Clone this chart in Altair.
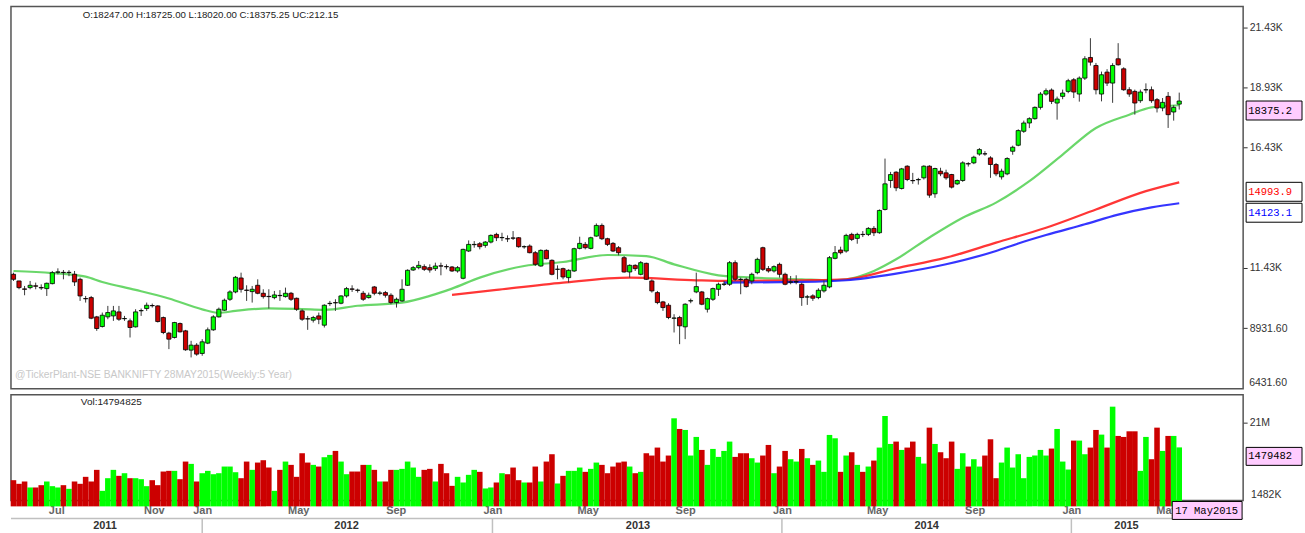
import altair as alt
import pandas as pd

# ---------------- data ----------------
last_date = "2015-05-17"
n_weeks = 211

opens = [11167,10891,10560,10614,10690,10620,10573,10780,11250,11250,
         11240,11170,10960,10160,10199,9397,8996,9397,9438,9604,
         9320,9231,8982,9650,9743,9870,9853,9369,8720,8540,
         9120,8816,8014,8222,7876,8305,8858,9397,9674,10130,
         10434,11015,10510,10448,10711,10379,10250,10199,10290,10241,
         10379,10171,9646,9320,9259,9438,9051,9950,9990,9964,
         10268,10560,10510,10379,10199,10642,10379,10407,10296,9992,
         10061,10711,11347,11444,11486,11444,11403,11520,11490,11472,
         11306,11002,12136,12400,12440,12371,12509,12827,12690,12650,
         12680,12689,12310,12343,12067,11513,12163,11749,11375,11403,
         11029,11306,12246,12412,12246,12758,13201,12648,12454,12274,
         11859,11265,11541,11168,11624,10891,10407,10020,9881,9340,
         9370,8983,10060,10435,10435,9716,10130,10545,10750,10753,
         11651,10960,10960,10891,11237,12274,11403,11306,11582,11168,
         10840,10850,10753,10220,10270,10200,10477,10643,11832,12178,
         12136,12828,12662,12830,12828,13077,12897,13865,15069,15415,
         14738,15664,15070,15100,15181,15664,14517,15457,15388,15319,
         14931,15070,15770,15803,16170,16180,16010,15733,15221,15346,
         16287,16536,17117,17462,17642,18112,18665,18831,18292,18569,
         18776,19260,18666,19329,20187,19854,18666,19578,19122,20132,
         19716,18845,18776,18389,18840,18845,18431,18085,18569,17919,
         18247.00]
highs = [11236,10900,10683,10891,10822,10750,10822,11306,11416,11347,
         11340,11306,11030,10268,10268,9438,9577,9853,9853,9853,
         9438,9328,9715,9743,9992,9950,9880,9411,8775,9190,
         9162,8857,8401,8305,8470,8955,9466,9785,10158,10503,
         11098,11236,10711,10683,10960,10545,10545,10476,10510,10614,
         10434,10199,9715,9438,9438,9577,9922,10061,10130,10296,
         10642,10711,10573,10476,10407,10683,10476,10476,10379,10199,
         10960,11375,11513,11721,11582,11582,11652,11652,11582,11513,
         11513,12233,12578,12550,12509,12550,12827,12896,12896,12786,
         12966,12717,12371,12412,12136,12205,12205,11790,11541,11444,
         11375,12274,12731,12509,12731,13284,13284,12689,12509,12343,
         11928,11582,11582,11721,11652,10960,10476,10061,9965,9508,
         9439,9965,10158,11237,10476,10200,10615,10822,10891,11721,
         11748,11030,11030,11237,11859,12316,11513,11541,11652,11237,
         11098,11126,10822,10310,10338,10587,10919,11929,12344,12316,
         12855,12897,12897,12966,13132,13173,13865,15981,15428,15456,
         15594,15705,15387,15180,15705,15705,15600,15600,15520,15345,
         15110,15871,15830,16100,16420,16290,16080,15800,15560,16038,
         16520,17200,17560,17700,18150,18749,18900,18900,18560,18850,
         19300,19330,19400,20241,20989,19960,19600,19700,19950,20782,
         19780,18950,18850,18850,19110,18980,18500,18500,18750,18200,
         18725.00]
lows = [10891,10545,10296,10545,10545,10520,10268,10750,11167,10960,
        11090,10683,10061,9992,9300,8816,8955,9300,9231,9231,
        9231,8540,8955,9438,9646,9785,9162,8678,8056,8498,
        8747,7986,7710,7779,7779,8263,8816,9369,9646,10061,
        10379,10407,10061,9992,10338,10158,9743,10130,10061,10199,
        10061,9646,9231,8858,9162,9093,8955,9853,9646,9922,
        10199,10434,10407,10061,10158,10296,10296,10199,9922,9784,
        10020,10684,11306,11375,11306,11237,11306,11126,11375,11265,
        11237,10960,12094,12274,12205,12274,12454,12550,12550,12509,
        12596,12274,12233,12040,11513,11486,11790,11126,10960,10960,
        10822,11265,12205,12205,12205,12730,12592,12343,12094,11956,
        11237,11029,11306,11126,10933,10407,9923,9646,9301,8748,
        8263,8471,9965,10380,9882,9578,10061,10269,10684,10684,
        10891,10338,10615,10753,11168,11306,11237,11237,11029,10712,
        10753,10753,9855,9895,10062,10131,10407,10587,11790,11998,
        12067,12551,12440,12717,12758,12758,12855,13824,14765,14626,
        14695,15042,14930,14900,15110,14350,14350,15250,15100,14737,
        14880,15013,15650,15750,16100,16100,15180,15250,15111,15290,
        16140,16494,17050,17250,17600,18020,18600,18250,17600,18450,
        18700,18500,18350,19250,19850,18650,18362,19000,18300,19850,
        18800,18550,17808,18300,18700,18300,17900,17950,17256,17560,
        18020.00]
closes = [10960,10614,10545,10711,10670,10600,10794,11236,11270,11240,
          11250,10850,10268,10150,9342,8913,9466,9577,9646,9300,
          9330,8955,9604,9660,9881,9860,9203,8747,8470,9162,
          8775,8028,8222,7848,8360,8858,9397,9715,10089,10434,
          11043,10545,10500,10545,10379,10241,10240,10310,10280,10379,
          10130,9715,9300,9310,9369,9300,9881,9960,9980,10268,
          10573,10545,10500,10130,10296,10379,10390,10296,9992,10130,
          10545,11334,11444,11541,11375,11347,11513,11510,11480,11306,
          11444,12205,12412,12412,12316,12509,12786,12689,12700,12640,
          12670,12316,12320,12067,11583,12163,11818,11168,11380,11057,
          11334,12233,12454,12274,12689,13201,12648,12412,12136,12067,
          11265,11541,11403,11652,10960,10477,9992,9785,9370,9350,
          9024,9923,10070,10656,9923,10158,10573,10753,10760,11651,
          10960,10950,10656,11168,11790,11375,11306,11486,11168,10753,
          10850,10860,10200,10230,10173,10504,10712,11860,12067,12067,
          12786,12620,12828,12820,13077,12897,13824,14930,15317,14765,
          15553,15111,15060,15110,15664,14461,15568,15346,15180,14793,
          15070,15803,15760,16038,16355,16176,15734,15346,15457,15983,
          16453,17145,17462,17642,18112,18665,18803,18361,18458,18707,
          19218,18749,19329,20132,19993,18845,19468,19122,19854,19883,
          18845,18666,18292,18749,18845,18389,18085,18320,17808,18112,
          18375.25]
volumes_m = [6.57,5.66,6.24,4.74,4.74,5.32,6.24,5.07,4.74,5.32,
             4.40,6.24,5.66,7.41,6.24,9.16,3.90,7.07,9.16,7.66,
             8.32,7.07,7.07,6.82,5.07,6.57,5.32,8.74,8.91,8.91,
             6.82,11.24,10.66,6.24,8.32,8.91,8.07,8.32,9.99,9.99,
             8.57,7.07,11.24,9.16,10.99,11.58,9.74,3.90,9.16,11.24,
             10.41,7.41,13.33,10.99,10.41,9.99,12.33,12.91,13.91,11.24,
             8.07,8.74,8.74,10.41,10.41,9.16,6.24,6.24,9.16,9.16,
             9.41,11.24,9.74,7.41,9.16,9.41,6.24,10.66,8.32,5.15,
             7.41,5.99,7.91,9.16,8.66,4.49,4.74,5.99,8.32,8.07,
             9.74,6.57,5.99,5.99,9.99,6.24,11.24,13.08,5.74,7.66,
             8.91,8.91,9.74,8.66,9.41,10.99,10.41,8.32,9.99,10.99,
             11.24,9.99,8.32,8.66,13.33,12.75,14.75,11.24,12.75,22.09,
             19.42,19.17,12.75,17.42,14.16,10.41,14.41,12.41,13.91,16.25,
             12.41,13.33,13.33,12.08,10.99,12.75,15.41,8.32,9.99,13.91,
             11.83,11.24,14.41,12.08,10.41,11.49,8.66,17.92,17.08,8.66,
             12.75,13.58,10.41,8.66,9.99,11.49,14.75,22.67,15.66,16.25,
             14.16,14.75,16.25,12.41,10.74,19.75,15.66,13.58,12.08,16.25,
             9.41,13.33,9.99,11.83,9.99,12.75,16.83,7.07,10.99,14.75,
             9.74,13.08,7.07,12.41,12.75,14.16,12.75,14.50,19.42,11.24,
             9.24,16.50,16.50,13.08,14.75,19.17,18.00,14.75,25.01,17.67,
             17.42,18.83,18.83,8.91,17.42,11.83,19.75,13.91,17.67,17.67,
             14.794825]

# moving averages, read at a set of bar positions (bar index, value)
ma_green_idx = [0,7,10,13,16,22,28,34,37,40,46,52,56,62,70,75,79,84,92,99,107,114,119,127,133,142,147,150,155,159,165,171,177,183,189,195,201,205,210]
ma_green_val = [11306,11220,11168,11071,10850,10520,10160,9710,9565,9646,9750,9720,9690,9860,9990,10269,10573,11030,11513,11680,11970,11928,11583,11126,11030,10960,10921,10962,11308,11792,12700,13521,14150,15042,16148,17255,17808,18112,18200]
ma_red_idx = [79,87,99,111,123,129,142,150,159,168,177,186,195,204,210]
ma_red_val = [10310,10518,10822,11030,10919,10891,10919,10962,11419,11861,12484,13106,13867,14627,14993.9]
ma_blue_idx = [128,142,150,159,168,177,181,186,193,199,205,210]
ma_blue_val = [10822,10850,10921,11197,11584,12137,12450,12800,13250,13650,13950,14123.1]

header_uc = 212.15
price_ticks = [8931.6, 11431.6, 16431.6, 18931.6, 21431.6]
price_floor_label = 6431.6
vol_ticks = [21000000]
vol_floor = 1482000
month_ticks = ["2011-07-01", "2011-11-01", "2012-01-01", "2012-05-01", "2012-09-01",
               "2013-01-01", "2013-05-01", "2013-09-01", "2014-01-01", "2014-05-01",
               "2014-09-01", "2015-01-01", "2015-05-01"]
year_names = ["2011", "2012", "2013", "2014", "2015"]
date_box_label = "17 May2015"
watermark = "@TickerPlant-NSE BANKNIFTY 28MAY2015(Weekly:5 Year)"

# ---------------- helpers ----------------
EPOCH = pd.Timestamp("1970-01-01")


def ms(t):
    return int((pd.Timestamp(t) - EPOCH) / pd.Timedelta(milliseconds=1))


dates = pd.date_range(end=last_date, periods=n_weeks, freq="7D")
date_ms = [ms(d) for d in dates]

W, H1, H2 = 1235, 383, 106
PX_WEEK = 5.564
t0 = dates[0] - pd.Timedelta(days=2.5 / PX_WEEK * 7)
t1 = t0 + pd.Timedelta(days=W / PX_WEEK * 7)
xs = alt.Scale(type="utc", domain=[ms(t0), ms(t1)], nice=False, padding=0)
ys = alt.Scale(domain=[6408.6, 22303.1], nice=False, zero=False, padding=0)
vs = alt.Scale(domain=[vol_floor, 28010000], nice=False, zero=False, padding=0)

df = pd.DataFrame({
    "date": date_ms, "open": opens, "high": highs, "low": lows,
    "close": closes, "vol": [v * 1e6 for v in volumes_m],
})

ma_rows = []
for name, idx, val in (("g", ma_green_idx, ma_green_val),
                       ("r", ma_red_idx, ma_red_val),
                       ("b", ma_blue_idx, ma_blue_val)):
    for i, v in zip(idx, val):
        ma_rows.append({"date": date_ms[i], "value": v, "series": name})
ma_df = pd.DataFrame(ma_rows)

up = "datum.close >= datum.open"
col = alt.condition(up, alt.value("#00ff00"), alt.value("#cc0000"))

FONT = "Liberation Sans"
MONO = "Liberation Mono"

yax = alt.Axis(orient="right", values=price_ticks, title=None, grid=False, domain=False,
               labelExpr="datum.value >= 10000 ? format(datum.value/1000, '.2f') + 'K' : format(datum.value, '.2f')",
               tickSize=4, tickColor="#333", labelColor="#333", labelFont=FONT,
               labelFontSize=10.5, labelPadding=2, labelOverlap=False, labelFlush=False)
X_top = lambda f: alt.X(f, type="temporal", scale=xs, axis=None, title=None)
Y_top = lambda f: alt.Y(f, type="quantitative", scale=ys, axis=yax, title=None)

base = alt.Chart(df)
ma_lines = alt.Chart(ma_df).mark_line(strokeWidth=2.2, interpolate="monotone", opacity=0.9).encode(
    x=X_top("date"), y=Y_top("value"),
    color=alt.Color("series:N", legend=None,
                    scale=alt.Scale(domain=["g", "r", "b"], range=["#5ad35a", "#ff2020", "#1f1fff"])))
wicks = base.mark_rule(color="#3a3a3a", strokeWidth=1).encode(
    x=X_top("date"), y=Y_top("low"), y2="high:Q")
bodies = base.mark_bar(size=4.2, stroke="black", strokeWidth=0.8).encode(
    x=X_top("date"), y=Y_top("open"), y2="close:Q", color=col)

header = f"O:{opens[-1]:.2f} H:{highs[-1]:.2f} L:{lows[-1]:.2f} C:{closes[-1]:.2f} UC:{header_uc:.2f}"
head_txt = alt.Chart(pd.DataFrame({"t": [header]})).mark_text(
    align="left", baseline="middle", font=FONT, fontSize=9.7, color="#222").encode(
    x=alt.value(72), y=alt.value(8), text="t:N")
wm_txt = alt.Chart(pd.DataFrame({"t": [watermark]})).mark_text(
    align="left", baseline="middle", font=FONT, fontSize=10.3, color="#c8c8c8").encode(
    x=alt.value(4), y=alt.value(369), text="t:N")

box_df = pd.DataFrame({
    "value": [closes[-1], ma_red_val[-1], ma_blue_val[-1]],
    "label": [f"{closes[-1]:.2f}"[:7], f"{ma_red_val[-1]:.2f}"[:7], f"{ma_blue_val[-1]:.2f}"[:7]],
    "fill": ["#ffccff", "#ffffff", "#ffffff"],
    "tc": ["#000000", "#ff0000", "#0000ff"],
})
boxes = alt.Chart(box_df).mark_point(shape="M0,0H56V19H0Z", size=4, filled=True, opacity=1,
                                     stroke="black", strokeWidth=1).encode(
    x=alt.value(W + 3), y=Y_top("value"), fill=alt.Fill("fill:N", scale=None))
box_txt = alt.Chart(box_df).mark_text(align="left", baseline="middle", font=MONO, fontSize=10.5, dy=10).encode(
    x=alt.value(W + 5), y=Y_top("value"), text="label:N", color=alt.Color("tc:N", scale=None))
floor_txt = alt.Chart(pd.DataFrame({"v": [price_floor_label], "t": [f"{price_floor_label:.2f}"]})).mark_text(
    align="left", baseline="bottom", font=FONT, fontSize=10.5, color="#333").encode(
    x=alt.value(W + 6), y=Y_top("v"), text="t:N")

top = alt.layer(ma_lines, wicks, bodies, head_txt, wm_txt, boxes, box_txt, floor_txt).properties(
    width=W, height=H1)

# ---------------- volume panel ----------------
xax = alt.Axis(values=[ms(m) for m in month_ticks], labelExpr="utcFormat(datum.value, '%b')",
               title=None, grid=False, domain=False, tickSize=3, tickColor="#888",
               labelColor="#666", labelFont=FONT, labelFontWeight="bold", labelFontSize=11,
               labelPadding=1, labelFlush=False, labelOverlap=False, orient="bottom")
vax = alt.Axis(orient="right", values=vol_ticks, labelExpr="format(datum.value/1e6, 'd') + 'M'",
               title=None, grid=False, domain=False, tickSize=4, tickColor="#333",
               labelColor="#333", labelFont=FONT, labelFontSize=10.5, labelPadding=2, labelFlush=False)
X_vol = lambda f: alt.X(f, type="temporal", scale=xs, axis=xax, title=None)
Y_vol = lambda f: alt.Y(f, type="quantitative", scale=vs, axis=vax, title=None)

vbars = alt.Chart(df).mark_bar(size=PX_WEEK).encode(
    x=X_vol("date"), y=Y_vol("vol"), y2=alt.value(H2), color=col)
vol_txt = alt.Chart(pd.DataFrame({"t": [f"Vol:{int(round(volumes_m[-1] * 1e6))}"]})).mark_text(
    align="left", baseline="middle", font=FONT, fontSize=10, color="#222").encode(
    x=alt.value(70), y=alt.value(7), text="t:N")
vbox_df = pd.DataFrame({"value": [volumes_m[-1] * 1e6],
                        "label": [str(int(round(volumes_m[-1] * 1e6)))[:7]]})
vbox = alt.Chart(vbox_df).mark_point(shape="M0,0H56V18H0Z", size=4, filled=True, opacity=1,
                                     fill="#ffccff", stroke="black", strokeWidth=1).encode(
    x=alt.value(W + 3), y=Y_vol("value"))
vbox_txt = alt.Chart(vbox_df).mark_text(align="left", baseline="middle", font=MONO, fontSize=10.5,
                                        dy=9, color="black").encode(
    x=alt.value(W + 5), y=Y_vol("value"), text="label:N")
vfloor = alt.Chart(pd.DataFrame({"v": [vol_floor], "t": [f"{vol_floor // 1000}K"]})).mark_text(
    align="left", baseline="bottom", font=FONT, fontSize=10.5, color="#333").encode(
    x=alt.value(W + 8), y=Y_vol("v"), text="t:N")

# year row
yr_rows = []
for y in year_names:
    sub = dates[dates.year == int(y)]
    mid = sub.min() + (sub.max() - sub.min()) / 2
    yr_rows.append({"year": y, "mid": ms(mid)})
yr_df = pd.DataFrame(yr_rows)
sep_df = pd.DataFrame({"d": [ms(f"{y}-01-01") for y in year_names[1:]]})

hline = alt.Chart(pd.DataFrame({"a": [0]})).mark_rule(color="#c0c0c0", strokeWidth=1.5).encode(
    x=alt.value(0), x2=alt.value(W), y=alt.value(124))
seps = alt.Chart(sep_df).mark_rule(color="#c0c0c0", strokeWidth=1.5).encode(
    x=X_vol("d"), y=alt.value(124), y2=alt.value(139))
yr_txt = alt.Chart(yr_df).mark_text(font=FONT, fontSize=11, fontWeight="bold", color="#333",
                                    baseline="middle").encode(
    x=X_vol("mid"), y=alt.value(132), text="year:N")

dbox_df = pd.DataFrame({"d": [date_ms[-1]], "t": [date_box_label]})
dbox = alt.Chart(dbox_df).mark_point(shape="M-7,0H63V18H-7Z", size=4, filled=True, opacity=1,
                                     fill="#ffccff", stroke="black", strokeWidth=1).encode(
    x=X_vol("d"), y=alt.value(107))
dbox_txt = alt.Chart(dbox_df).mark_text(align="left", baseline="middle", font=MONO, fontSize=10.5,
                                        dx=-4, color="black").encode(
    x=X_vol("d"), y=alt.value(116.5), text="t:N")

vol = alt.layer(vbars, vol_txt, vbox, vbox_txt, vfloor, hline, seps, yr_txt, dbox, dbox_txt).properties(
    width=W, height=H2)

chart = alt.vconcat(top, vol, spacing=4).properties(
    padding={"left": 8, "top": 5, "right": 0, "bottom": 0}, background="white"
).configure_view(stroke="#555", strokeWidth=1.5)

chart.save("out.html", embed_options={"renderer": "svg", "actions": False})
